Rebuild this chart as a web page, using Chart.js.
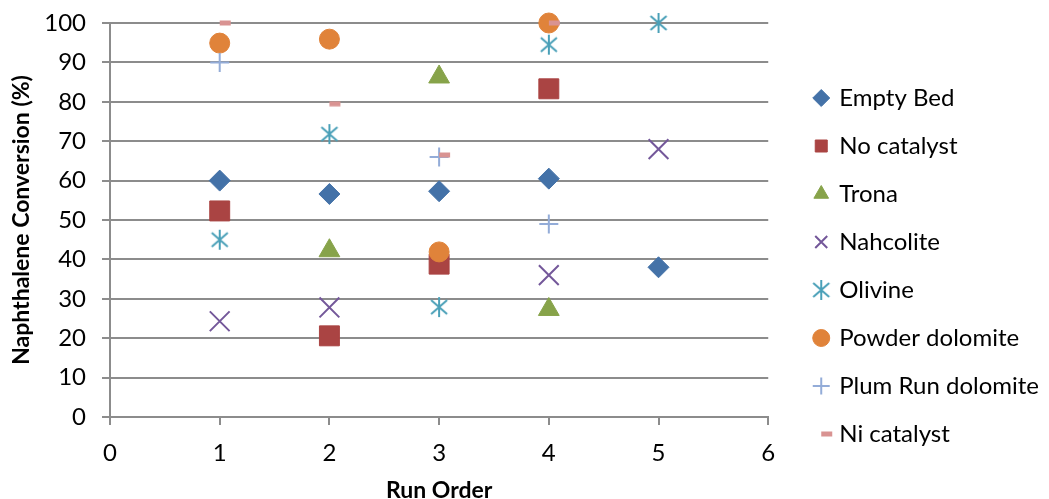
<!DOCTYPE html>
<html>
<head>
<meta charset="utf-8">
<script src="https://cdn.jsdelivr.net/npm/chart.js@4"></script>
<style>
  html, body { margin: 0; padding: 0; background: #fff; }
  #wrap { width: 1049px; height: 499px; position: relative; }
</style>
</head>
<body>
<div id="wrap"><canvas id="c" width="1049" height="499"></canvas></div>
<script>
// ---- Data ----
const seriesNames = ['Empty Bed', 'No catalyst', 'Trona', 'Nahcolite', 'Olivine', 'Powder dolomite', 'Plum Run dolomite', 'Ni catalyst'];

const emptyBedX = [1, 2, 3, 4, 5];
const emptyBedY = [60, 56.6, 57.3, 60.5, 38];

const noCatalystX = [1, 2, 3, 4];
const noCatalystY = [52.3, 20.6, 38.8, 83.3];

const tronaX = [2, 3, 4];
const tronaY = [42.2, 86.3, 27.3];

const nahcoliteX = [1, 2, 4, 5];
const nahcoliteY = [24.3, 27.8, 36, 68];

const olivineX = [1, 2, 3, 4, 5];
const olivineY = [45, 71.8, 27.9, 94.5, 100];

const powderX = [1, 2, 3, 4];
const powderY = [94.9, 95.9, 41.9, 100];

const plumRunX = [1, 3, 4];
const plumRunY = [90, 66, 49];

const niX = [1, 2, 3, 4];
const niY = [100, 79.5, 66.5, 100];

const xTicks = [0, 1, 2, 3, 4, 5, 6];
const yTicks = [0, 10, 20, 30, 40, 50, 60, 70, 80, 90, 100];

// ---- Custom marker canvases ----
function asteriskMarker(color) {
  const c = document.createElement('canvas');
  c.width = 22; c.height = 22;
  const g = c.getContext('2d');
  g.strokeStyle = color; g.lineWidth = 2;
  g.beginPath();
  g.moveTo(3, 4); g.lineTo(19, 18);
  g.moveTo(19, 4); g.lineTo(3, 18);
  g.moveTo(11, 1); g.lineTo(11, 21);
  g.stroke();
  return c;
}
function dashMarker(color) {
  const c = document.createElement('canvas');
  c.width = 24; c.height = 6;
  const g = c.getContext('2d');
  g.fillStyle = color;
  g.fillRect(12, 0.5, 11, 5);
  return c;
}

const pts = (xs, ys) => xs.map((x, i) => ({ x: x, y: ys[i] }));

const C = {
  blue: '#4472A8', red: '#AA4443', green: '#87A34A', purple: '#74589A',
  teal: '#4AA0B8', orange: '#E0833A', light: '#93ACD8', pink: '#D99392'
};

const datasets = [
  { label: seriesNames[0], data: pts(emptyBedX, emptyBedY), pointStyle: 'rectRot', pointRadius: 10.5, backgroundColor: C.blue, borderColor: C.blue, pointBorderWidth: 1 },
  { label: seriesNames[1], data: pts(noCatalystX, noCatalystY), pointStyle: 'rect', pointRadius: 14.1, backgroundColor: C.red, borderColor: C.red, pointBorderWidth: 1 },
  { label: seriesNames[2], data: pts(tronaX, tronaY), pointStyle: 'triangle', pointRadius: 12, backgroundColor: C.green, borderColor: C.green, pointBorderWidth: 1 },
  { label: seriesNames[3], data: pts(nahcoliteX, nahcoliteY), pointStyle: 'crossRot', pointRadius: 14, backgroundColor: C.purple, borderColor: C.purple, pointBorderWidth: 2 },
  { label: seriesNames[4], data: pts(olivineX, olivineY), pointStyle: asteriskMarker(C.teal), pointRadius: 11, backgroundColor: C.teal, borderColor: C.teal, pointBorderWidth: 2 },
  { label: seriesNames[5], data: pts(powderX, powderY), pointStyle: 'circle', pointRadius: 10, backgroundColor: C.orange, borderColor: C.orange, pointBorderWidth: 1 },
  { label: seriesNames[6], data: pts(plumRunX, plumRunY), pointStyle: 'cross', pointRadius: 9.5, backgroundColor: C.light, borderColor: C.light, pointBorderWidth: 2 },
  { label: seriesNames[7], data: pts(niX, niY), pointStyle: dashMarker(C.pink), pointRadius: 6, backgroundColor: C.pink, borderColor: C.pink, pointBorderWidth: 1 }
];
datasets.forEach((d, i) => { d.order = datasets.length - i; d.showLine = false; d.clip = false; d.pointHoverRadius = d.pointRadius; });

// empty layout box that keeps a gap between the plot area and the legend
const gapPlugin = {
  id: 'legendGap',
  beforeInit(chart) {
    Chart.layouts.addBox(chart, {
      position: 'right', weight: 500, fullSize: false, options: {},
      left: 0, top: 0, right: 0, bottom: 0, width: 0, height: 0,
      isHorizontal() { return false; },
      update(maxWidth, maxHeight) { this.width = 23; this.height = maxHeight; return { width: 23, height: maxHeight }; },
      getPadding() { return { top: 0, left: 0, right: 0, bottom: 0 }; },
      draw() {}
    });
  }
};

const GRID = '#8C8C8C';
Chart.defaults.font.family = 'Lato, "Open Sans", sans-serif';
Chart.defaults.color = '#000';

new Chart(document.getElementById('c'), {
  type: 'scatter',
  data: { datasets: datasets },
  plugins: [gapPlugin],
  options: {
    responsive: false,
    animation: false,
    events: [],
    layout: { padding: { top: 23, right: 0, bottom: 0, left: 0 } },
    plugins: {
      tooltip: { enabled: false },
      legend: {
        position: 'right',
        maxWidth: 400,
        title: { display: true, text: ' ', font: { size: 8 }, padding: { top: 0.4, bottom: 0 } },
        labels: {
          usePointStyle: true,
          boxWidth: 12, boxHeight: 12,
          padding: 24,
          font: { size: 24 },
          color: '#000',
          sort: (a, b) => a.datasetIndex - b.datasetIndex
        }
      }
    },
    scales: {
      x: {
        type: 'linear', position: 'bottom',
        min: 0, max: 6,
        afterBuildTicks: s => { s.ticks = xTicks.map(v => ({ value: v })); },
        ticks: { font: { size: 24 }, padding: 14, color: '#000' },
        grid: { display: true, drawOnChartArea: false, drawTicks: true, tickLength: 8, color: GRID, lineWidth: 2 },
        border: { display: true, color: GRID, width: 2 },
        title: { display: true, text: 'Run Order', font: { size: 23, weight: 'bold' }, padding: { top: 0, bottom: -5 }, color: '#000' },
        afterFit: s => { s.height = 82; }
      },
      y: {
        type: 'linear', position: 'left',
        min: 0, max: 100,
        afterBuildTicks: s => { s.ticks = yTicks.map(v => ({ value: v })); },
        ticks: { font: { size: 24 }, padding: 16, color: '#000' },
        grid: { display: true, drawTicks: true, tickLength: 8, color: GRID, lineWidth: 2 },
        border: { display: true, color: GRID, width: 2 },
        title: { display: true, text: 'Naphthalene Conversion (%)', font: { size: 23, weight: 'bold' }, padding: { top: 8, bottom: 0 }, color: '#000' },
        afterFit: s => { s.width = 110; s.paddingTop = 0; s.paddingBottom = 0; }
      }
    }
  }
});
</script>
</body>
</html>
